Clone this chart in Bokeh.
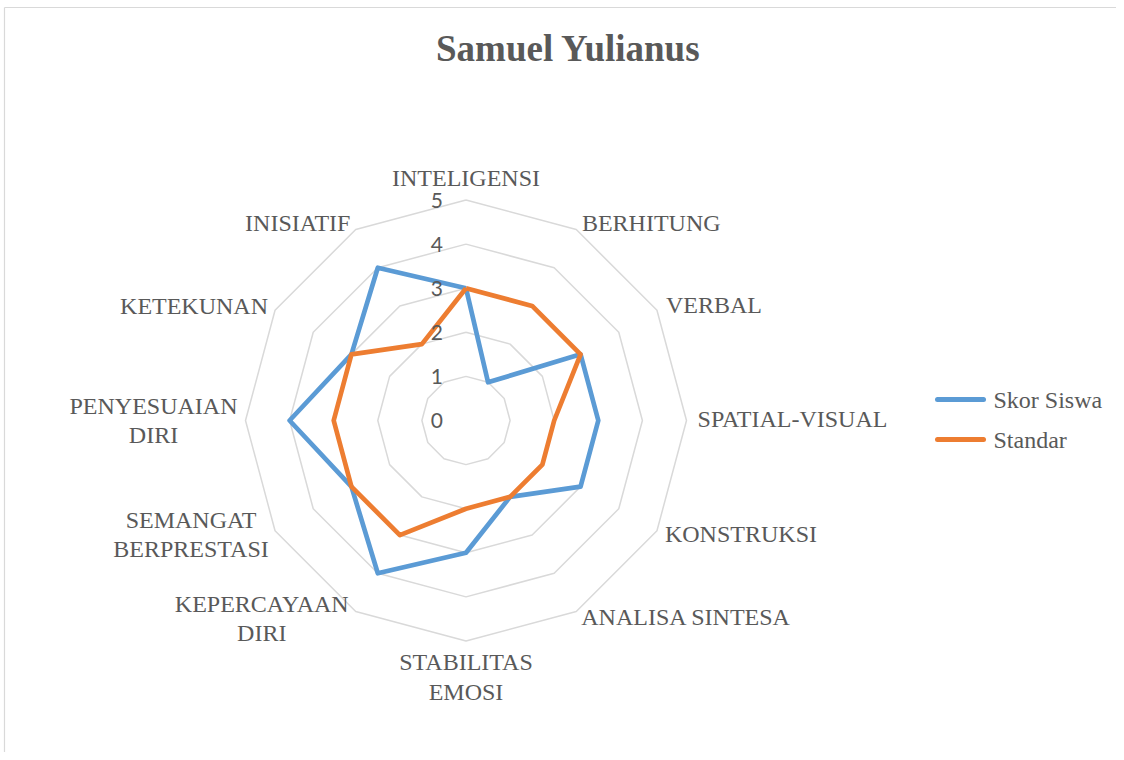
import math
from bokeh.plotting import figure
from bokeh.models import Range1d
from bokeh.core.properties import value
from bokeh.embed import file_html
from bokeh.resources import INLINE

# ---------------- data ----------------
title = "Samuel Yulianus"
categories = ["INTELIGENSI", "BERHITUNG", "VERBAL", "SPATIAL-VISUAL", "KONSTRUKSI",
              "ANALISA SINTESA", "STABILITAS\nEMOSI", "KEPERCAYAAN\nDIRI",
              "SEMANGAT\nBERPRESTASI", "PENYESUAIAN\nDIRI", "KETEKUNAN", "INISIATIF"]
skor_siswa = [3, 1, 3, 3, 3, 2, 3, 4, 3, 4, 3, 4]
standar = [3, 3, 3, 2, 2, 2, 2, 3, 3, 3, 3, 2]
series_names = ["Skor Siswa", "Standar"]
ticks = [0, 1, 2, 3, 4, 5]

# ---------------- layout ----------------
W, H = 1116, 752
U = 44.1                 # pixels per unit of radius
CX, CY = 465.5, 420.0    # centre of radar in figure pixels
GRAY_TXT = "#595959"
GRID = "#d9d9d9"
BLUE = "#5B9BD5"
ORANGE = "#ED7D31"
SERIF = value("Liberation Serif")

def px(xi):  # figure x pixel -> data
    return (xi - CX) / U

def py(yi):  # figure y pixel -> data
    return (CY - yi) / U

p = figure(width=W, height=H, output_backend="svg", toolbar_location=None,
           x_range=Range1d(-CX / U, (W - CX) / U),
           y_range=Range1d(-(H - CY) / U, CY / U),
           min_border=0)
p.axis.visible = False
p.grid.visible = False
p.outline_line_color = None
p.background_fill_color = "white"

# chart-area border (top and left edges visible in the reference)
p.line([px(4), px(W + 10)], [py(7), py(7)], line_color=GRID, line_width=1.2)
p.line([px(4), px(4)], [py(7), py(H + 10)], line_color=GRID, line_width=1.2)

n = len(categories)
ang = [math.pi / 2 - 2 * math.pi * i / n for i in range(n)]

def poly(vals):
    xs = [v * math.cos(a) for v, a in zip(vals, ang)]
    ys = [v * math.sin(a) for v, a in zip(vals, ang)]
    return xs + xs[:1], ys + ys[:1]

# grid rings
for t in ticks[1:]:
    xs, ys = poly([t] * n)
    p.line(xs, ys, line_color=GRID, line_width=1.5)

# series
for vals, col in [(skor_siswa, BLUE), (standar, ORANGE)]:
    xs, ys = poly(vals)
    p.line(xs, ys, line_color=col, line_width=4.7, line_join="round")

# tick labels
p.text(x=[-23 / U] * len(ticks), y=ticks, text=[str(t) for t in ticks],
       text_font=value("Lato"), text_font_size="21px", text_color=GRAY_TXT,
       text_align="right", text_baseline="middle")

# category labels (pixel offsets from outer vertex)
off_x = [0, 75, 57, 106, 84, 110, 0, -94, -84, -92, -81, -58]
off_y = [-22, -7, -5, -2, 3, 6, 36, 7, 4, 0, -4, -7]
rmax = ticks[-1]
lx = [rmax * math.cos(a) + ox / U for a, ox in zip(ang, off_x)]
ly = [rmax * math.sin(a) - oy / U for a, oy in zip(ang, off_y)]
p.text(x=lx, y=ly, text=categories, text_font=SERIF, text_font_size="24px",
       text_color=GRAY_TXT, text_align="center", text_baseline="middle",
       text_line_height=1.12)

# title
p.text(x=[px(568)], y=[py(48)], text=[title], text_font=SERIF, text_font_size="37px",
       text_font_style="bold", text_color=GRAY_TXT, text_align="center",
       text_baseline="middle")

# legend
for name, col, yy in [(series_names[0], BLUE, 399), (series_names[1], ORANGE, 439)]:
    p.line([px(937), px(983)], [py(yy), py(yy)], line_color=col, line_width=5,
           line_cap="round")
    p.text(x=[px(993)], y=[py(yy)], text=[name], text_font=SERIF,
           text_font_size="24px", text_color=GRAY_TXT, text_align="left",
           text_baseline="middle")

open("out.html", "w").write(file_html(p, INLINE))
